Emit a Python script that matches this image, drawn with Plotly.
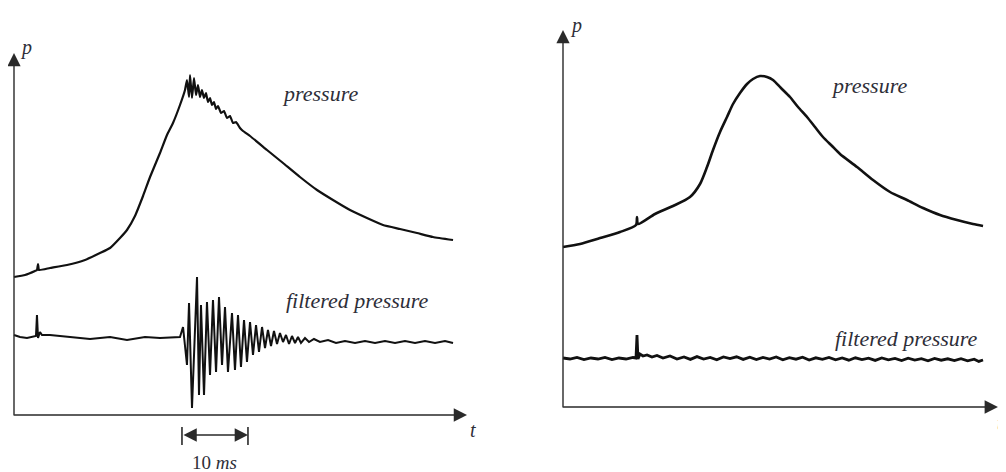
import plotly.graph_objects as go

# ---------------- data (time in ms, pressure in arbitrary units) ----------------
# Left panel: knocking cycle
t_press_L = [0, 1.67, 3.18, 3.48, 3.64, 3.79, 5.45, 8.03, 10.76, 13.03, 14.55, 16.06, 17.12,
             18.33, 19.55, 20.61, 22.12, 23.18, 24.09, 25.15, 25.91, 26.21, 26.52, 26.67,
             26.97, 27.27, 27.58, 27.88, 28.18, 28.48, 28.79, 29.09, 29.39, 29.70, 30.00,
             30.30, 30.61, 30.91, 31.36, 31.82, 32.27, 32.73, 33.18, 33.64, 34.24, 34.70,
             35.76, 38.33, 40.76, 43.33, 45.91, 48.33, 50.91, 53.48, 55.91, 58.48, 61.06,
             63.48, 66.52]
p_press_L = [69, 70, 72, 72.5, 75.5, 72.5, 73.5, 75, 77.5, 81, 83.5, 88.5, 92.5,
             99.5, 109.5, 119, 131, 140, 146, 155, 162.5, 167.5, 159, 170,
             158.5, 168.5, 160, 165, 159, 162.5, 158.5, 161, 156.5, 158.5, 155,
             156.5, 153, 154.5, 151, 152, 148.5, 149.5, 146, 146.5, 143.5, 142,
             139.5, 132.5, 126, 119, 112.5, 107.5, 102.5, 98.5, 95, 93, 91,
             89, 87.5]

t_filt_L = [0, 0.91, 1.97, 3.18, 3.33, 3.48, 3.64, 3.94, 4.24, 5.45, 6.97, 9.24, 11.52,
            14.55, 17.12, 19.85, 22.12, 25.15, 25.61, 26.21, 26.52, 26.97, 27.73, 28.03,
            28.33, 28.79, 29.24, 29.70, 30.15, 30.61, 31.06, 31.52, 31.97, 32.42, 33.03,
            33.48, 33.94, 34.39, 34.85, 35.30, 35.76, 36.21, 36.67, 37.12, 37.58, 38.03,
            38.48, 38.94, 39.39, 39.85, 40.30, 40.76, 41.21, 41.67, 42.12, 42.58, 43.03,
            43.48, 44.09, 44.70, 45.45, 46.36, 47.58, 48.79, 50.15, 51.67, 53.18, 54.70,
            56.21, 57.73, 59.24, 60.76, 62.27, 63.79, 65.30, 66.52]
p_filt_L = [40, 39, 38.5, 39.5, 39.5, 50, 38.5, 41.5, 40, 40, 39.5, 38.5, 38,
            39, 37.5, 39, 38.5, 39, 44, 25, 56, 3.5, 69, 10,
            55, 10, 56.5, 20, 57.5, 21.5, 59, 25, 54, 21.5, 51,
            22.5, 50, 24, 47.5, 26.5, 46.5, 30, 45, 31.5, 44, 33.5,
            42.5, 34.5, 42, 35.5, 41, 36.5, 40, 35.5, 39.5, 36, 39,
            36, 38.5, 36.5, 38, 36.5, 37.5, 36, 37, 36, 37, 36,
            37, 36, 37, 36, 37, 36, 37, 36]

# Right panel: normal (non-knocking) cycle
t_press_R = [0, 2.58, 5.61, 8.64, 11.06, 11.21, 11.36, 13.94, 16.67, 19.24, 20.76, 21.82,
             22.73, 23.79, 24.85, 25.76, 26.82, 27.88, 28.79, 29.85, 30.91, 31.82, 33.03,
             34.39, 35.61, 36.97, 38.18, 39.39, 40.76, 41.97, 44.55, 46.97, 49.55, 52.12,
             54.55, 57.12, 59.70, 62.12, 63.64]
p_press_R = [80, 81.5, 84.5, 87.5, 91, 95, 91.5, 96.5, 100.5, 105, 111.5, 120,
             128.5, 137.5, 145, 151.5, 157, 161.5, 164, 165.5, 165, 163.5, 159.5,
             155, 150, 145, 140, 135, 130.5, 126.5, 120, 113.5, 107.5, 103.5,
             99.5, 96, 93.5, 91.5, 90.5]

t_filt_R = [0, 1.06, 2.12, 3.18, 4.24, 5.30, 6.36, 7.42, 8.48, 9.55, 10.61, 11.06, 11.21,
            11.36, 11.67, 12.12, 12.73, 13.48, 14.24, 15.15, 16.21, 17.27, 18.33, 19.3,
            20.3, 21.3, 22.3, 23.3, 24.3, 25.3, 26.3, 27.3, 28.3, 29.3, 30.3, 31.3, 32.3,
            33.3, 34.3, 35.3, 36.3, 37.3, 38.3, 39.3, 40.3, 41.3, 42.3, 43.3, 44.3, 45.3,
            46.3, 47.3, 48.3, 49.3, 50.3, 51.3, 52.3, 53.3, 54.3, 55.3, 56.3, 57.3, 58.3,
            59.3, 60.3, 61.3, 62.3, 63.0, 63.64]
p_filt_R = [24.5, 24, 24.75, 23.75, 24.5, 24, 24.75, 23.75, 24.5, 24, 24.75, 24.5, 36,
            24, 26.5, 25.5, 26, 25, 25.75, 24.5, 25.5, 24, 25, 23.8,
            25.2, 24, 24.8, 23.6, 25, 24.2, 25.1, 23.8, 24.9, 23.7, 24.8, 24, 25,
            23.6, 24.7, 23.9, 24.9, 23.5, 24.6, 23.8, 24.8, 23.6, 24.5, 23.4, 24.6, 23.7,
            24.4, 23.3, 24.5, 23.6, 24.3, 23.2, 24.4, 23.5, 24.2, 23.1, 24.3, 23.4, 24.1,
            23.2, 24.2, 23.1, 23.9, 22.8, 23.5]

LINE = "#111111"
AXC = "#2a2a2a"
TXT = "#2e2e38"
FONT = "Liberation Serif"

W, H = 998, 464
SPLIT = 492 / W

fig = go.Figure()
fig.add_trace(go.Scatter(x=t_press_L, y=p_press_L, mode="lines", xaxis="x", yaxis="y",
                         line=dict(color=LINE, width=2.2, shape="spline", smoothing=0.4),
                         hoverinfo="skip", showlegend=False))
fig.add_trace(go.Scatter(x=t_filt_L, y=p_filt_L, mode="lines", xaxis="x", yaxis="y",
                         line=dict(color=LINE, width=2.0),
                         hoverinfo="skip", showlegend=False))
fig.add_trace(go.Scatter(x=t_press_R, y=p_press_R, mode="lines", xaxis="x2", yaxis="y2",
                         line=dict(color=LINE, width=2.6, shape="spline", smoothing=0.7),
                         hoverinfo="skip", showlegend=False))
fig.add_trace(go.Scatter(x=t_filt_R, y=p_filt_R, mode="lines", xaxis="x2", yaxis="y2",
                         line=dict(color=LINE, width=2.8),
                         hoverinfo="skip", showlegend=False))

hidden = dict(visible=False, showgrid=False, zeroline=False, fixedrange=True)
fig.update_layout(
    width=W, height=H, autosize=False,
    margin=dict(l=0, r=0, t=0, b=0),
    paper_bgcolor="white", plot_bgcolor="white",
    font=dict(family=FONT),
    xaxis=dict(domain=[0, SPLIT], range=[-0.909, 73.636], **hidden),
    yaxis=dict(domain=[0, 1], range=[-28.5, 203.5], **hidden),
    xaxis2=dict(domain=[SPLIT, 1], range=[-9.545, 67.12], **hidden),
    yaxis2=dict(domain=[0, 1], range=[-32.5, 199.5], anchor="x2", **hidden),
)


def arrow(xr, yr, x, y, ax, ay, side="end"):
    fig.add_annotation(xref=xr, yref=yr, axref=xr, ayref=yr, x=x, y=y, ax=ax, ay=ay,
                       text="", showarrow=True, arrowhead=2, arrowsize=1.9,
                       arrowwidth=1.4, arrowcolor=AXC, arrowside=side, standoff=0,
                       startstandoff=0, startarrowhead=2, startarrowsize=1.9)


def label(xr, yr, x, y, s, size, xanchor="center"):
    fig.add_annotation(xref=xr, yref=yr, x=x, y=y, text=s, showarrow=False,
                       xanchor=xanchor,
                       font=dict(family=FONT, size=size, color=TXT))


# axes with arrowheads
arrow("x", "y", 0, 181, 0, -1)
arrow("x", "y", 68.64, 0, -0.2, 0)
arrow("x2", "y2", 0, 188.5, 0, -1)
arrow("x2", "y2", 65.9, 0, -0.2, 0)

# 10 ms scale bar
arrow("x", "y", 35.45, -10, 25.45, -10, side="end+start")
for tx in (25.45, 35.45):
    fig.add_shape(type="line", xref="x", yref="y", x0=tx, x1=tx, y0=-6, y1=-15,
                  line=dict(color=AXC, width=1.6))

# labels
label("x", "y", 1.8, 184, "<i>p</i>", 20)
label("x", "y", 69.5, -7.5, "<i>t</i>", 20)
label("x", "y", 46.4, 161, "<i>pressure</i>", 22)
label("x", "y", 52.1, 57.5, "<i>filtered pressure</i>", 22)
label("x", "y", 30.4, -23.5, "10 <i>ms</i>", 19)

label("x2", "y2", 1.9, 191, "<i>p</i>", 20)
label("x2", "y2", 66.9, -8, "<i>t</i>", 20, xanchor="right")
label("x2", "y2", 46.4, 161, "<i>pressure</i>", 22)
label("x2", "y2", 52.1, 34.5, "<i>filtered pressure</i>", 22)

fig.write_html("out.html")
